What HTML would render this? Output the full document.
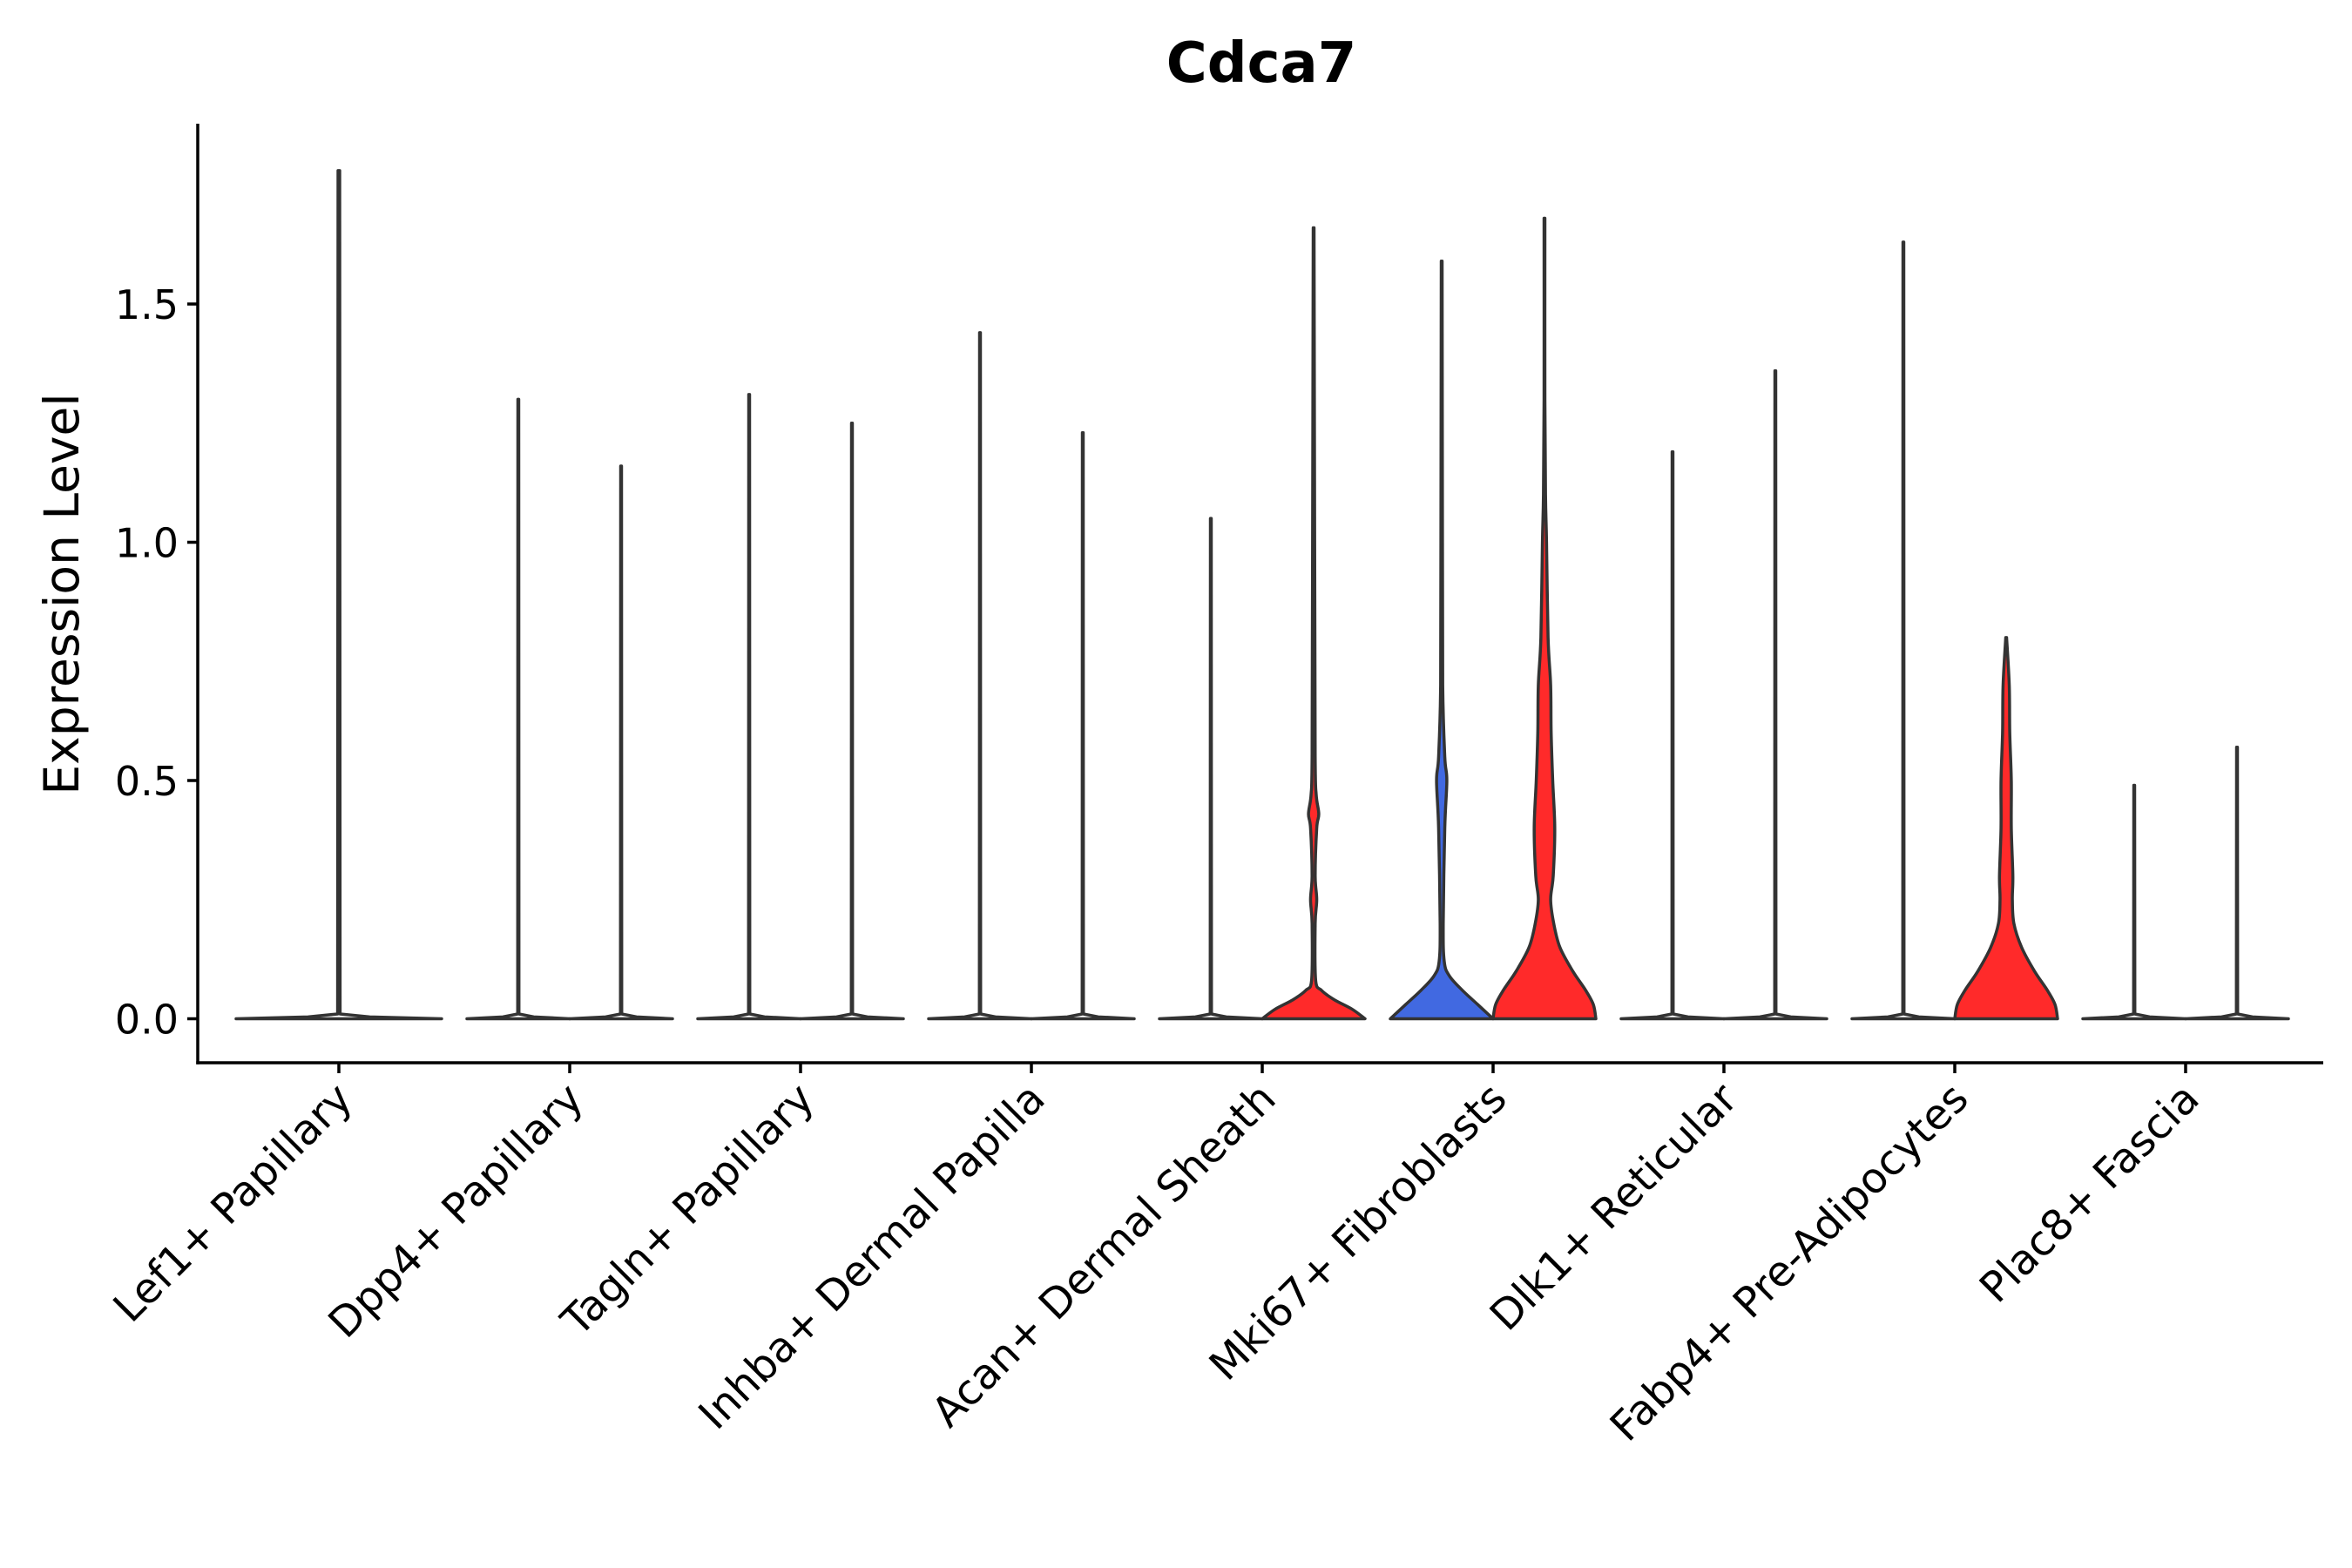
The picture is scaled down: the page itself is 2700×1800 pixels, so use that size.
<!DOCTYPE html>
<html><head><meta charset="utf-8"><style>
html,body{margin:0;padding:0;background:#fff}
svg{display:block;font-family:"DejaVu Sans","Liberation Sans",sans-serif}
</style></head><body>
<svg id="chart" width="2700" height="1800" viewBox="0 0 2700 1800">
<text x="1448" y="94" text-anchor="middle" font-size="64" font-weight="bold">Cdca7</text>
<text transform="translate(90,682) rotate(-90)" text-anchor="middle" font-size="55">Expression Level</text>
<g id="violins"></g>
<g id="axes"></g>
</svg>
<script>
const categories = ["Lef1+ Papillary","Dpp4+ Papillary","Tagln+ Papillary","Inhba+ Dermal Papilla","Acan+ Dermal Sheath","Mki67+ Fibroblasts","Dlk1+ Reticular","Fabp4+ Pre-Adipocytes","Plac8+ Fascia"];
const leftMax  = [1.78,1.30,1.31,1.44,1.05,1.59,1.19,1.63,0.49];
const rightMax = [null,1.16,1.25,1.23,1.66,1.68,1.36,0.80,0.57];
const leftFill  = ["none","none","none","none","none","#4169E1","none","none","none"];
const rightFill = ["none","none","none","none","#FF2A2A","#FF2A2A","none","#FF2A2A","none"];
const yTicks = [0,0.5,1.0,1.5];
const yTickLabels = ["0.0","0.5","1.0","1.5"];
// density profiles (value, relative width)
const flatY = [0,0.004,0.01];
const flatW = [1,0.3,0.012];
const acanY = [0,0.02,0.04,0.06,0.08,0.2,0.25,0.3,0.4,0.43,0.47,0.55,1.0];
const acanW = [1,0.75,0.4,0.15,0.04,0.03,0.06,0.03,0.06,0.1,0.05,0.03,0.02];
const mkiLY = [0,0.03,0.06,0.09,0.12,0.2,0.4,0.5,0.55,0.7,1.0];
const mkiLW = [1,0.7,0.4,0.15,0.05,0.03,0.06,0.1,0.06,0.02,0.015];
const mkiRY = [0,0.03,0.06,0.1,0.15,0.2,0.25,0.3,0.4,0.5,0.6,0.7,0.8,1.0,1.1,1.3];
const mkiRW = [1,0.95,0.8,0.55,0.3,0.18,0.12,0.17,0.2,0.16,0.13,0.12,0.07,0.04,0.02,0.008];
const fabY = [0,0.03,0.06,0.1,0.15,0.2,0.25,0.3,0.4,0.5,0.6,0.7,0.8];
const fabW = [1,0.95,0.8,0.55,0.3,0.15,0.12,0.13,0.1,0.1,0.07,0.06,0.05];

const NS="http://www.w3.org/2000/svg";
const X0=227, X1=2667, YB=1220, Y0=1169.5, PER=547;
const xC = i => 389 + i*265;
const yS = v => Y0 - v*PER;
const HW = 59;
const vg=document.getElementById('violins');
const ag=document.getElementById('axes');
function mk(tag,attrs,parent){const e=document.createElementNS(NS,tag);for(const k in attrs)e.setAttribute(k,attrs[k]);parent.appendChild(e);return e;}
function clampY(v,a,b){const lo=Math.min(a,b),hi=Math.max(a,b);return Math.max(lo,Math.min(hi,v));}
function smooth(pts,doSmooth){
  let d="";
  for(let i=1;i<pts.length;i++){
    const p0=pts[Math.max(0,i-2)],p1=pts[i-1],p2=pts[i],p3=pts[Math.min(pts.length-1,i+1)];
    if(!doSmooth){ d+=` L${p2[0]},${p2[1]}`; continue; }
    const c1=[p1[0]+(p2[0]-p0[0])/6,clampY(p1[1]+(p2[1]-p0[1])/6,p1[1],p2[1])];
    const c2=[p2[0]-(p3[0]-p1[0])/6,clampY(p2[1]-(p3[1]-p1[1])/6,p1[1],p2[1])];
    d+=` C${c1[0]},${c1[1]} ${c2[0]},${c2[1]} ${p2[0]},${p2[1]}`;
  }
  return d;
}
function violinPath(cx,hw,ys,ws,max,doSmooth){
  const pts=[];
  for(let i=0;i<ys.length;i++){ if(ys[i]<max) pts.push([ys[i],ws[i]]); }
  pts.push([max,0.008]);
  const L=pts.map(p=>[cx-hw*p[1],yS(p[0])]);
  const R=pts.slice().reverse().map(p=>[cx+hw*p[1],yS(p[0])]);
  return "M"+L[0][0]+","+L[0][1]+smooth(L,doSmooth)+" L"+R[0][0]+","+R[0][1]+smooth(R,doSmooth)+"Z";
}
function profile(i,side){
  if(i===4&&side===1) return [acanY,acanW,true];
  if(i===5&&side===0) return [mkiLY,mkiLW,true];
  if(i===5&&side===1) return [mkiRY,mkiRW,true];
  if(i===7&&side===1) return [fabY,fabW,true];
  return [flatY,flatW,false];
}
categories.forEach((c,i)=>{
  if(rightMax[i]===null){
    const [ys,ws,sm]=profile(i,0);
    const p=mk('path',{d:violinPath(xC(i),HW*2,ys,ws,leftMax[i],sm),fill:leftFill[i],stroke:"#333",'stroke-width':3.5,'stroke-linejoin':'round'},vg);
    
    
  } else {
    [[leftMax,leftFill,-1,0],[rightMax,rightFill,1,1]].forEach(([mx,fl,s,side])=>{
      const [ys,ws,sm]=profile(i,side);
      const p=mk('path',{d:violinPath(xC(i)+s*HW,HW,ys,ws,mx[i],sm),fill:fl[i],stroke:"#333",'stroke-width':3.5,'stroke-linejoin':'round'},vg);
      
      
    });
  }
  const t=mk('line',{x1:xC(i),x2:xC(i),y1:YB,y2:YB+12,stroke:"#000",'stroke-width':3.5},ag);
  
  
  const lb=mk('text',{transform:`translate(${xC(i)+18},${YB+44}) rotate(-45)`,'text-anchor':'end','font-size':48},ag);
  lb.textContent=c;
  
  
});
yTicks.forEach((v,i)=>{
  const t=mk('line',{x1:X0-12,x2:X0,y1:yS(v),y2:yS(v),stroke:"#000",'stroke-width':3.5},ag);
  
  
  const lb=mk('text',{x:X0-22,y:yS(v)+17,'text-anchor':'end','font-size':46},ag);
  lb.textContent=yTickLabels[i];
  
  
});
const ya=mk('line',{x1:X0,x2:X0,y1:142,y2:YB+1.75,stroke:"#000",'stroke-width':3.5},ag);


const xa=mk('line',{x1:X0-1.75,x2:X1,y1:YB,y2:YB,stroke:"#000",'stroke-width':3.5},ag);


</script>
</body></html>
